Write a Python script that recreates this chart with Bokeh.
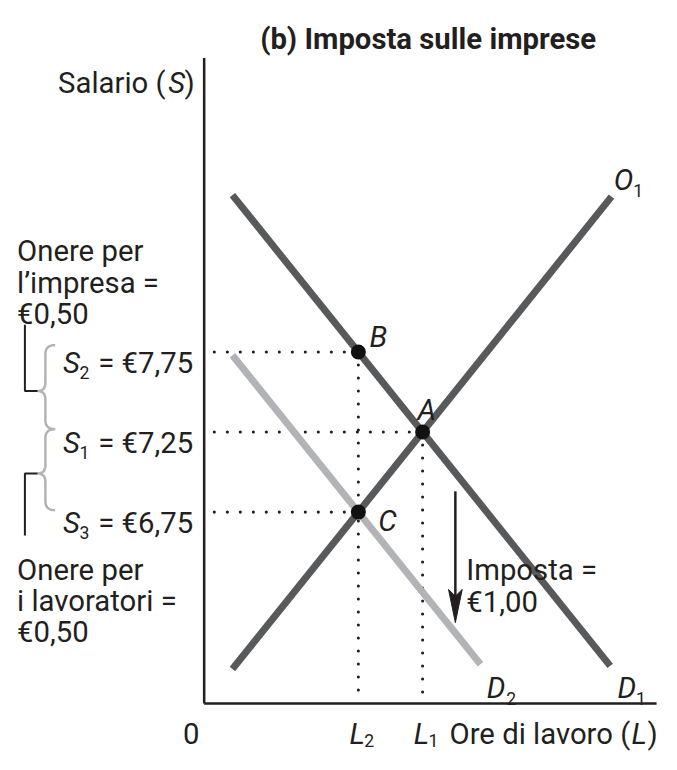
import numpy as np
from bokeh.plotting import figure
from bokeh.models import Range1d, ColumnDataSource
from bokeh.core.properties import value
from bokeh.embed import file_html
from bokeh.resources import INLINE

# ---------------- data ----------------
wage_levels = [7.75, 7.25, 6.75]            # S2, S1, S3
wage_subs = ["2", "1", "3"]
wage_texts = ["= €7,75", "= €7,25", "= €6,75"]

point_names = ["B", "A", "C"]
point_L = [12, 17, 12]
point_w = [7.75, 7.25, 6.75]

labor_ticks = [12, 17]                      # L2, L1
labor_subs = ["2", "1"]

supply_L = [2.2, 31.7]
supply_w = [5.77, 8.72]
demand1_L = [2.2, 31.6]
demand1_w = [8.73, 5.79]
demand2_L = [2.2, 21.5]
demand2_w = [7.73, 5.80]

tax_arrow_L = 19.55
tax_arrow_w = [6.88, 6.06]

# ---------------- layout ----------------
W, H = 661, 754                          # fits the 677x770 window with its 8px margin
S = min(W / 677, H / 770)                # layout scale relative to the reference
X0PX, XSCALE = 208.6, 13.16              # reference pixel of L=0, px per unit
YREFPX, WREF, YSCALE = 442.0, 7.25, 164.0

def xd(px):
    return (np.asarray(px, dtype=float) - X0PX) / XSCALE

def yd(py):
    return WREF + (YREFPX - np.asarray(py, dtype=float)) / YSCALE

def xpx(L):
    return X0PX + L * XSCALE

def ypx(w):
    return YREFPX - (w - WREF) * YSCALE

FONT = "Roboto"
INK = "#231f20"
DARK = "#58595b"
LIGHT = "#b1b3b6"

p = figure(width=W, height=H, output_backend="svg", toolbar_location=None,
           x_range=Range1d(float(xd(0)), float(xd(W / S))),
           y_range=Range1d(float(yd(H / S)), float(yd(0))),
           min_border=0, outline_line_color=None)
p.axis.visible = False
p.grid.visible = False
p.background_fill_color = "white"
p.border_fill_color = "white"

# axes lines
w_axis = float(yd(720))
p.line([0, 0], [w_axis, float(yd(59))], line_color=INK, line_width=2.5)
p.line([0, float(xd(672))], [w_axis, w_axis], line_color=INK, line_width=2.5)

# dotted guide lines
dot = dict(line_color=INK, line_width=3.1, line_dash="0 13", line_cap="round")
for L, w in zip(point_L, point_w):
    p.line([float(xd(219)), L], [w, w], **dot)
for L, w in zip(point_L[:2], point_w[:2]):
    p.line([L, L], [w, float(yd(714))], **dot)

# curves
p.line(demand2_L, demand2_w, line_color=LIGHT, line_width=7)
p.line(supply_L, supply_w, line_color=DARK, line_width=7)
p.line(demand1_L, demand1_w, line_color=DARK, line_width=7)

# equilibrium points
p.scatter(point_L, point_w, size=15, fill_color="#111111", line_color=None)

# tax arrow
tip_py = ypx(tax_arrow_w[1])
ax = xpx(tax_arrow_L)
p.line([tax_arrow_L, tax_arrow_L], [tax_arrow_w[0], float(yd(tip_py - 20))],
       line_color=INK, line_width=2.5)
p.patch(list(xd([ax, ax - 7, ax, ax + 7])),
        list(yd([tip_py, tip_py - 34, tip_py - 27, tip_py - 34])),
        fill_color=INK, line_color=INK, line_width=1)

# braces (grey) and brackets (black)
def quad(p0, c, p1, n=14):
    t = np.linspace(0, 1, n)[:, None]
    P0, C, P1 = np.array(p0), np.array(c), np.array(p1)
    return (1 - t) ** 2 * P0 + 2 * (1 - t) * t * C + t ** 2 * P1

def brace(y_top, y_bot, y_tip, xv=46.0, xt=38.0, xe=56.0, r=9.0):
    pts = [quad((xe, y_top), (xv, y_top), (xv, y_top + r)),
           np.array([[xv, y_top + r], [xv, y_tip - r]]),
           quad((xv, y_tip - r), (xv, y_tip), (xt, y_tip)),
           quad((xt, y_tip), (xv, y_tip), (xv, y_tip + r)),
           np.array([[xv, y_tip + r], [xv, y_bot - r]]),
           quad((xv, y_bot - r), (xv, y_bot), (xe, y_bot))]
    arr = np.vstack(pts)
    return list(xd(arr[:, 0])), list(yd(arr[:, 1]))

y2, y1, y3 = (ypx(w) for w in wage_levels)
tips = []
for top, bot in ((y2 - 7, y1 - 3), (y1 - 3, y3 - 2)):
    tip = (top + bot) / 2 + 4
    tips.append(tip)
    bx, by = brace(top, bot, tip)
    p.line(bx, by, line_color=LIGHT, line_width=2.5)

p.line(list(xd([25, 25, 38])), list(yd([332, tips[0], tips[0]])), line_color=INK, line_width=2)
p.line(list(xd([38, 25, 25])), list(yd([tips[1], tips[1], 548])), line_color=INK, line_width=2)

# ---------------- texts ----------------
def add_text(items, size, style="normal", align="left", color=INK):
    src = ColumnDataSource(dict(x=[float(xd(i[1])) for i in items],
                                y=[float(yd(i[2])) for i in items],
                                t=[i[0] for i in items]))
    p.text(x="x", y="y", text="t", source=src, text_font=value(FONT),
           text_font_size=value(f"{size * S:.1f}px"), text_font_style=style,
           text_align=align, text_baseline="alphabetic", text_color=color)

BODY, SUB = 30, 18
BOT, BOTSUB = 751, 758      # baselines of the bottom row (reference pixels)

add_text([("(b) Imposta sulle imprese", 438, 39)], 30, "bold", "center")

add_text([("Onere per", 17, 257), ("l’impresa =", 17, 289), ("€0,50", 17, 321),
          ("Onere per", 17, 583), ("i lavoratori =", 17, 615), ("€0,50", 17, 647),
          ("0", 187, BOT),
          ("Imposta =", 477, 583), ("€1,00", 477, 616)]
         + [(t, 100, ypx(w) + 11) for t, w in zip(wage_texts, wage_levels)], BODY)

# right-aligned pieces of mixed-style labels
add_text([("Salario (", 169, 84), (")", 199, 84),
          ("Ore di lavoro (", 645, BOT), (")", 673, BOT)], BODY, "normal", "right")
add_text([("S", 189, 84), ("L", 662, BOT)], BODY, "italic", "right")

add_text([("O", 628, 184), ("D", 498, 704), ("D", 632, 704),
          ("B", 378, 345), ("A", 427, 419), ("C", 387, 533)]
         + [("S", 64, ypx(w) + 11) for w in wage_levels]
         + [("L", xpx(L) - 9, BOT) for L in labor_ticks], BODY, "italic")

add_text([("1", 648, 195), ("2", 518, 715), ("1", 651, 715)]
         + [(s, 81, ypx(w) + 21) for s, w in zip(wage_subs, wage_levels)]
         + [(s, xpx(L) + 6, BOTSUB) for s, L in zip(labor_subs, labor_ticks)], SUB)

open("out.html", "w").write(file_html(p, INLINE))
